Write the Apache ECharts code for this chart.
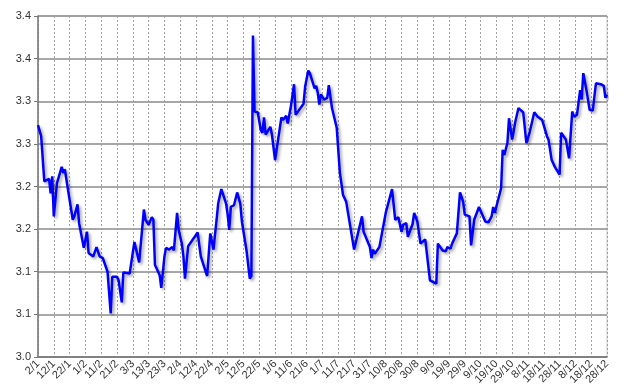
<!DOCTYPE html>
<html>
<head>
<meta charset="utf-8">
<script src="https://cdn.jsdelivr.net/npm/echarts@6/dist/echarts.min.js"></script>
<style>
html, body { margin: 0; padding: 0; background: #fff; }
#chart { width: 627px; height: 388px; }
</style>
</head>
<body>
<div id="chart"></div>
<script>
// dates as d/m, one value per date
var dates = [
  '2/1','4/1','6/1','9/1','10/1','11/1','12/1','14/1','17/1','18/1','19/1','21/1','24/1','25/1','27/1','28/1','31/1',
  '2/2','3/2','4/2','6/2','8/2','10/2','12/2','13/2','15/2','17/2','18/2','21/2','22/2','24/2','25/2',
  '1/3','4/3','7/3','10/3','11/3','13/3','15/3','16/3','17/3','18/3','20/3','21/3','23/3','24/3','26/3','28/3','29/3','31/3',
  '1/4','3/4','4/4','5/4','7/4','13/4','15/4','19/4','21/4','23/4','25/4','26/4','27/4','28/4',
  '1/5','2/5','3/5','4/5','6/5','8/5','10/5','11/5','14/5','16/5','17/5','18/5','19/5','21/5','23/5','24/5','25/5','26/5','29/5','30/5',
  '1/6','5/6','6/6','8/6','9/6','11/6','13/6','14/6','19/6','20/6','22/6','23/6','26/6','27/6','28/6','29/6','30/6',
  '2/7','4/7','5/7','7/7','10/7','12/7','14/7','16/7','21/7','26/7','27/7','31/7',
  '1/8','2/8','3/8','6/8','10/8','14/8','16/8','18/8','20/8','21/8','23/8','24/8','27/8','28/8','30/8',
  '1/9','4/9','7/9','11/9','12/9','13/9','15/9','17/9','18/9','20/9','21/9','24/9','26/9','28/9','29/9',
  '2/10','3/10','4/10','5/10','8/10','12/10','14/10','16/10','17/10','18/10','22/10','23/10','24/10','26/10','27/10','29/10','31/10',
  '1/11','2/11','5/11','7/11','9/11','12/11','14/11','17/11','20/11','21/11','23/11','25/11','28/11','29/11',
  '2/12','4/12','6/12','7/12','9/12','11/12','12/12','13/12','15/12','17/12','19/12','21/12','24/12','26/12','27/12','28/12'
];
var values = [
  3.272,3.259,3.206,3.209,3.192,3.212,3.165,3.204,3.223,3.216,3.220,3.196,3.161,3.165,3.179,3.157,3.128,
  3.147,3.122,3.121,3.118,3.129,3.118,3.116,3.118,3.100,3.051,3.094,3.094,3.090,3.064,3.099,
  3.098,3.135,3.111,3.173,3.161,3.155,3.164,3.161,3.108,3.104,3.096,3.081,3.118,3.128,3.126,3.129,3.125,3.169,
  3.149,3.133,3.118,3.092,3.130,3.146,3.118,3.095,3.145,3.126,3.161,3.180,3.180,3.197,
  3.180,3.167,3.149,3.176,3.178,3.193,3.180,3.159,3.124,3.092,3.095,3.377,3.288,3.287,3.266,3.263,3.281,3.261,3.270,3.261,
  3.231,3.281,3.278,3.283,3.274,3.294,3.320,3.284,3.297,3.317,3.336,3.333,3.315,3.318,3.310,3.296,3.308,
  3.302,3.304,3.319,3.292,3.269,3.216,3.190,3.182,3.126,3.165,3.147,3.129,
  3.116,3.126,3.121,3.129,3.169,3.197,3.161,3.164,3.147,3.155,3.157,3.141,3.156,3.169,3.159,
  3.133,3.138,3.090,3.086,3.133,3.135,3.125,3.124,3.129,3.127,3.133,3.145,3.193,3.182,3.167,
  3.165,3.131,3.133,3.161,3.176,3.159,3.158,3.165,3.176,3.169,3.198,3.243,3.237,3.251,3.280,3.255,3.276,
  3.274,3.292,3.287,3.251,3.263,3.287,3.282,3.278,3.259,3.255,3.231,3.223,3.214,3.263,
  3.255,3.233,3.288,3.282,3.284,3.313,3.302,3.333,3.313,3.290,3.289,3.321,3.320,3.318,3.304,3.308
];
var xTickLabels = ['2/1','12/1','22/1','1/2','11/2','21/2','3/3','13/3','23/3','2/4','12/4','22/4',
  '2/5','12/5','22/5','1/6','11/6','21/6','1/7','11/7','21/7','31/7','10/8','20/8','30/8',
  '9/9','19/9','29/9','9/10','19/10','29/10','8/11','18/11','28/11','8/12','18/12','28/12'];
var yTickLabels = ['3.0','3.1','3.1','3.2','3.2','3.3','3.3','3.4','3.4'];

var monthStart = [0, 31, 59, 90, 120, 151, 181, 212, 243, 273, 304, 334];
// days since 2/1
function dayIndex(s) {
  var p = s.split('/');
  return monthStart[+p[1] - 1] + (+p[0]) - 2;
}
var seriesData = dates.map(function (d, i) { return [dayIndex(d), values[i]]; });

var chart = echarts.init(document.getElementById('chart'));
var option = {
  backgroundColor: '#fff',
  animation: false,
  grid: { left: 38, right: 20, top: 16, bottom: 31, show: true, borderColor: '#c8c8c8', borderWidth: 1 },
  xAxis: {
    type: 'value', min: 0, max: 360, interval: 10,
    axisLine: { show: true, onZero: false, lineStyle: { color: '#777', width: 1.5 } },
    axisTick: { show: false },
    axisLabel: {
      rotate: 45, margin: 5, color: '#333', fontSize: 11, fontFamily: 'Liberation Sans',
      formatter: function (v) { return xTickLabels[Math.round(v / 10)] || ''; }
    },
    splitLine: { show: true, lineStyle: { color: '#a0a0a0', type: [2, 2], width: 1 } }
  },
  yAxis: {
    type: 'value', min: 3.0, max: 3.4, interval: 0.05,
    axisLine: { show: true, lineStyle: { color: '#777', width: 1.5 } },
    axisTick: { show: true, length: 4, lineStyle: { color: '#777' } },
    axisLabel: {
      color: '#333', fontSize: 11, fontFamily: 'Liberation Sans', margin: 7,
      formatter: function (v) { return yTickLabels[Math.round((v - 3) / 0.05)]; }
    },
    splitLine: { show: true, lineStyle: { color: '#8a8a8a', width: 1.5 } }
  },
  series: [{
    type: 'line',
    data: seriesData,
    showSymbol: false,
    lineStyle: {
      color: '#0000ff', width: 2.5,
      shadowColor: 'rgba(0,0,0,0.35)', shadowBlur: 3, shadowOffsetX: 2, shadowOffsetY: 2
    }
  }]
};
chart.setOption(option);
</script>
</body>
</html>
